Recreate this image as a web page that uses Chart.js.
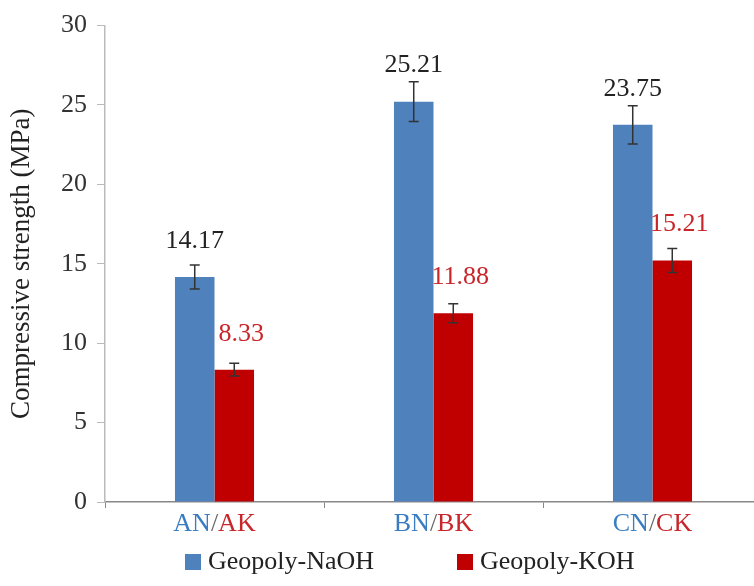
<!DOCTYPE html>
<html>
<head>
<meta charset="utf-8">
<script src="https://cdn.jsdelivr.net/npm/chart.js@4/dist/chart.umd.min.js"></script>
<style>
  html, body { margin: 0; padding: 0; background: #ffffff; overflow: hidden; }
  #frame { width: 754px; height: 586px; overflow: hidden; position: relative; }
  #box { width: 770px; height: 586px; position: absolute; left: 0; top: 0; }
</style>
</head>
<body>
<div id="frame"><div id="box"><canvas id="chart"></canvas></div></div>
<script>
// Sample codes per binder type
const naohCodes = ['AN', 'BN', 'CN'];
const kohCodes = ['AK', 'BK', 'CK'];
const categories = naohCodes.map((c, i) => c + '/' + kohCodes[i]);

// Compressive strength (MPa) and standard deviations
const naohValues = [14.17, 25.21, 23.75];
const kohValues = [8.33, 11.88, 15.21];
const naohErrors = [0.75, 1.25, 1.2];
const kohErrors = [0.4, 0.6, 0.75];

const seriesNames = ['Geopoly-NaOH', 'Geopoly-KOH'];

// Y axis range and step
const yMin = 0;
const yMax = 30;
const yStep = 5;

const BLUE = '#4f81bd';
const RED = '#c00000';
const LABEL_BLUE = '#3a7cc2';
const LABEL_RED = '#c8262b';
const SERIF = '"Liberation Serif", "Times New Roman", serif';

const annotate = {
  id: 'annotate',
  afterDatasetsDraw(chart) {
    const ctx = chart.ctx;
    const y = chart.scales.y;
    const x = chart.scales.x;
    const errors = [naohErrors, kohErrors];
    const labelColors = ['#222222', LABEL_RED];
    const labelShift = [0, 7];

    ctx.save();
    chart.data.datasets.forEach((ds, di) => {
      const meta = chart.getDatasetMeta(di);
      meta.data.forEach((bar, i) => {
        const v = ds.data[i];
        const e = errors[di][i];
        const yt = y.getPixelForValue(v + e);
        const yb = y.getPixelForValue(v - e);
        // error bar
        ctx.strokeStyle = '#333333';
        ctx.lineWidth = 1.5;
        ctx.beginPath();
        ctx.moveTo(bar.x, yt); ctx.lineTo(bar.x, yb);
        ctx.moveTo(bar.x - 5, yt); ctx.lineTo(bar.x + 5, yt);
        ctx.moveTo(bar.x - 5, yb); ctx.lineTo(bar.x + 5, yb);
        ctx.stroke();
        // value label
        ctx.fillStyle = labelColors[di];
        ctx.font = '26px ' + SERIF;
        ctx.textAlign = 'center';
        ctx.textBaseline = 'middle';
        ctx.fillText(v.toFixed(2), bar.x + labelShift[di], y.getPixelForValue(v) - 36);
      });
    });

    // two-coloured category labels
    ctx.font = '26px ' + SERIF;
    ctx.textAlign = 'left';
    ctx.textBaseline = 'middle';
    categories.forEach((cat, i) => {
      const parts = [[naohCodes[i], LABEL_BLUE], ['/', '#666666'], [kohCodes[i], LABEL_RED]];
      const total = parts.reduce((s, p) => s + ctx.measureText(p[0]).width, 0);
      let cx = x.getPixelForValue(i) - total / 2;
      parts.forEach(([t, c]) => {
        ctx.fillStyle = c;
        ctx.fillText(t, cx, 524);
        cx += ctx.measureText(t).width;
      });
    });

    // legend
    const legendX = [185, 457];
    chart.data.datasets.forEach((ds, di) => {
      ctx.fillStyle = ds.backgroundColor;
      ctx.fillRect(legendX[di], 554, 16, 16);
      ctx.fillStyle = '#222222';
      ctx.font = '26px ' + SERIF;
      ctx.textAlign = 'left';
      ctx.textBaseline = 'middle';
      ctx.fillText(ds.label, legendX[di] + 23, 562);
    });
    ctx.restore();
  }
};

new Chart(document.getElementById('chart'), {
  type: 'bar',
  data: {
    labels: categories,
    datasets: [
      { label: seriesNames[0], data: naohValues, backgroundColor: BLUE,
        categoryPercentage: 0.361, barPercentage: 1.0 },
      { label: seriesNames[1], data: kohValues, backgroundColor: RED,
        categoryPercentage: 0.361, barPercentage: 1.0 }
    ]
  },
  options: {
    responsive: true,
    maintainAspectRatio: false,
    animation: false,
    layout: { padding: { top: 21, right: 8, bottom: 0, left: 0 } },
    plugins: {
      legend: { display: false },
      tooltip: { enabled: false }
    },
    scales: {
      x: {
        grid: { display: true, drawOnChartArea: false, drawTicks: true, tickLength: 6,
                color: '#888888', offset: true },
        border: { display: true, color: '#888888', width: 1.5 },
        ticks: { display: false },
        afterFit(scale) { scale.height = 84; }
      },
      y: {
        min: yMin,
        max: yMax,
        ticks: {
          stepSize: yStep,
          padding: 10,
          color: '#333333',
          font: { family: SERIF, size: 26 }
        },
        grid: { display: true, drawOnChartArea: false, drawTicks: true, tickLength: 8,
                color: '#bbbbbb' },
        border: { display: true, color: '#bbbbbb', width: 1.5 },
        title: {
          display: true,
          text: 'Compressive strength (MPa)',
          color: '#222222',
          font: { family: SERIF, size: 27 },
          padding: { top: 6, bottom: 0 }
        },
        afterFit(scale) { scale.width = 105; }
      }
    }
  },
  plugins: [annotate]
});
</script>
</body>
</html>
